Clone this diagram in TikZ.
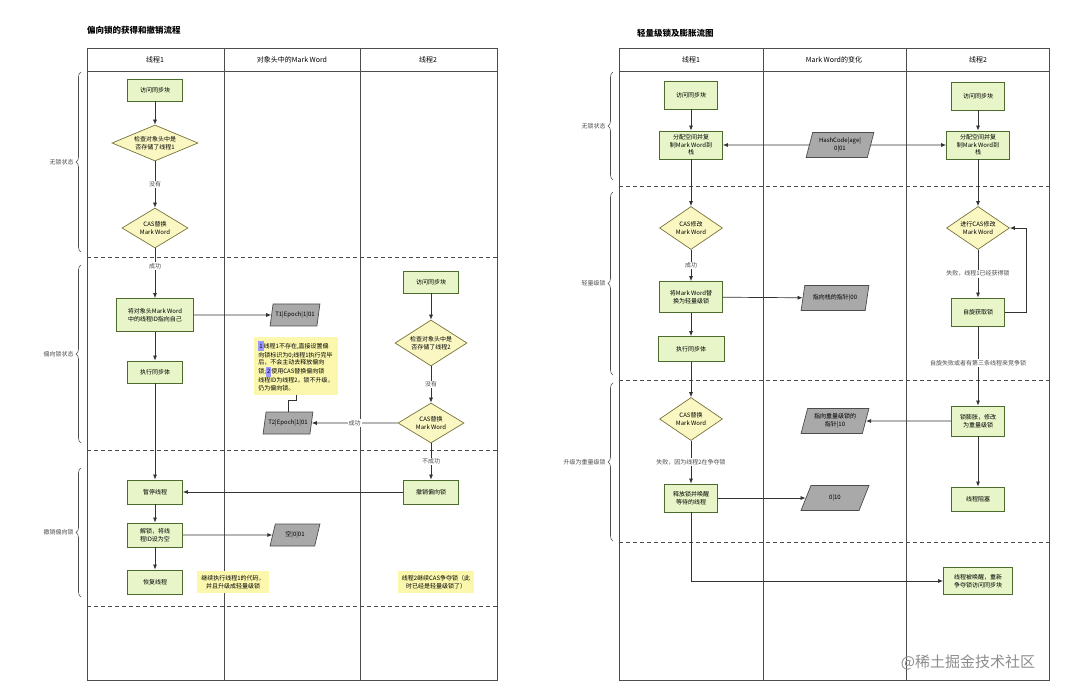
\documentclass[tikz,border=0pt]{standalone}
\usepackage{fontspec}
\setmainfont{Noto Sans CJK SC}
\usetikzlibrary{shapes.geometric,arrows.meta,decorations.pathreplacing}
\definecolor{rf}{HTML}{E8F5C8}\definecolor{rd}{HTML}{4E6B2E}
\definecolor{df}{HTML}{FAF7C2}\definecolor{dd}{HTML}{77733A}
\definecolor{pf}{HTML}{A9A9A9}\definecolor{nf}{HTML}{FBF8AE}
\begin{document}
\begin{tikzpicture}[x=1pt,y=-1pt,
 every node/.style={font=\fontsize{6}{7.5}\selectfont,align=center,inner sep=1pt},
 box/.style={draw=rd,fill=rf,line width=0.8pt,minimum width=#1,minimum height=24pt},
 box/.default=55pt,
 dia/.style={diamond,aspect=1.9,draw=dd,fill=df,line width=0.7pt,inner sep=0pt,minimum width=#1,minimum height=40pt},
 dia/.default=66pt,
 par/.style={trapezium,trapezium left angle=72,trapezium right angle=108,draw=black!70,fill=pf,line width=0.7pt,minimum width=50pt,minimum height=22pt,trapezium stretches=true},
 note/.style={fill=nf,inner sep=4pt},
 arr/.style={-{Latex[length=5pt,width=4pt]},line width=0.7pt,black!80},
 lab/.style={fill=white,text=black!70},
 frame/.style={line width=0.8pt,black!70},
 sep/.style={line width=0.9pt,black!70,dash pattern=on 4pt off 3pt},
 brace/.style={decorate,decoration={brace,amplitude=5pt},line width=0.6pt,black!70},
 side/.style={text=black!70}]
\useasboundingbox (0,0) rectangle (1080,695);
% ===== LEFT =====
\node[anchor=west,font=\fontsize{8.5}{10}\selectfont\bfseries] (t1) at (86,30) {偏向锁的获得和撤销流程};
\draw[frame] (87,48) rectangle (497,680);
\draw[frame] (87,71) -- (497,71) (224,48) -- (224,680) (360,48) -- (360,680);
\node[font=\fontsize{7}{8}\selectfont] (h1) at (155,60) {线程1};
\node[font=\fontsize{7}{8}\selectfont] (h2) at (292,60) {对象头中的Mark Word};
\node[font=\fontsize{7}{8}\selectfont] (h3) at (428,60) {线程2};
\draw[sep] (87,257) -- (497,257) (87,450) -- (497,450) (87,606) -- (497,606);
\draw[brace] (81,252) -- (81,72) node[midway,left=6pt,side] (s1) {无锁状态};
\draw[brace] (81,443) -- (81,265) node[midway,left=6pt,side] (s2) {偏向锁状态};
\draw[brace] (81,597) -- (81,468) node[midway,left=6pt,side] (s3) {撤销偏向锁};

\node[box,minimum height=22pt] (a1) at (155,90) {访问同步块};
\node[dia=86pt,minimum height=36pt] (a2) at (155,143) {检查对象头中是\\否存储了线程1};
\node[dia] (a3) at (155,228) {CAS替换\\Mark Word};
\node[box=77pt,minimum height=33pt] (a4) at (155,315) {将对象头Mark Word\\中的线程ID指向自己};
\node[box,minimum height=22pt] (a5) at (155,372) {执行同步体};
\node[box] (a6) at (155,492) {暂停线程};
\node[box] (a7) at (155,535) {解锁，将线\\程ID设为空};
\node[box] (a8) at (155,582) {恢复线程};
\node[par] (p1) at (295,315) {T1|Epoch|1|01};
\node[par] (p2) at (288,423) {T2|Epoch|1|01};
\node[par] (p3) at (295,535) {空|0|01};
\node[note,align=left] (n1) at (296,366) {\colorbox{blue!40}{\hspace{-2pt}1\hspace{-2pt}}线程1不存在,直接设置偏\\向锁标识为0;线程1执行完毕\\后，不会主动去释放偏向\\锁;\colorbox{blue!40}{\hspace{-2pt}2\hspace{-2pt}}使用CAS替换偏向锁\\线程ID为线程2，锁不升级，\\仍为偏向锁。};
\node[note] (n2) at (233,582) {继续执行线程1的代码，\\并且升级成轻量级锁};
\node[note] (n3) at (436,582) {线程2继续CAS争夺锁（此\\时已经是轻量级锁了）};
\node[box,minimum height=22pt] (b1) at (431,282) {访问同步块};
\node[dia=72pt,minimum height=46pt] (b2) at (431,343) {检查对象头中是\\否存储了线程2};
\node[dia] (b3) at (431,423) {CAS替换\\Mark Word};
\node[box] (b4) at (431,492) {撤销偏向锁};

\draw[arr] (a1) -- (a2);
\draw[arr] (a2) -- node[lab] (l1) {没有} (a3);
\draw[arr] (a3) -- node[lab,pos=0.35] (l2) {成功} (a4);
\draw[arr] (a4) -- (p1);
\draw[arr] (a4) -- (a5);
\draw[arr] (a5) -- (a6);
\draw[arr] (a6) -- (a7);
\draw[arr] (a7) -- (a8);
\draw[arr] (a7) -- (p3);
\draw[arr] (b1) -- (b2);
\draw[arr] (b2) -- node[lab] (l3) {没有} (b3);
\draw[arr] (b3) -- node[lab] (l4) {成功} (p2);
\draw[arr] (b3) -- node[lab] (l5) {不成功} (b4);
\draw[arr] (b4) -- (a6);
\draw[line width=0.6pt,black!80] (n1.south) -- ++(0,5) -| (p2.north);
% ===== RIGHT =====
\node[anchor=west,font=\fontsize{8.5}{10}\selectfont\bfseries] (t2) at (636,33) {轻量级锁及膨胀流图};
\draw[frame] (619,48) rectangle (1049,680);
\draw[frame] (619,71) -- (1049,71) (763,48) -- (763,680) (906,48) -- (906,680);
\node[font=\fontsize{7}{8}\selectfont] (g1) at (691,60) {线程1};
\node[font=\fontsize{7}{8}\selectfont] (g2) at (834,60) {Mark Word的变化};
\node[font=\fontsize{7}{8}\selectfont] (g3) at (978,60) {线程2};
\draw[sep] (619,186) -- (1049,186) (619,380) -- (1049,380) (619,542) -- (1049,542);
\draw[brace] (613,180) -- (613,72) node[midway,left=6pt,side] (s4) {无锁状态};
\draw[brace] (613,375) -- (613,192) node[midway,left=6pt,side] (s5) {轻量级锁};
\draw[brace] (613,541) -- (613,383) node[midway,left=6pt,side] (s6) {升级为重量级锁};

\node[box=53pt,minimum height=28pt] (c1) at (691,95) {访问同步块};
\node[box=63pt,minimum height=28pt] (c2) at (691,145) {分配空间并复\\制Mark Word到\\栈};
\node[dia=63pt,minimum height=43pt] (c3) at (691,228) {CAS修改\\Mark Word};
\node[box=63pt,minimum height=31pt] (c4) at (691,297) {将Mark Word替\\换为轻量级锁};
\node[box=66pt,minimum height=25pt] (c5) at (691,349) {执行同步体};
\node[dia=63pt,minimum height=43pt] (c6) at (691,419) {CAS替换\\Mark Word};
\node[box=53pt,minimum height=28pt] (c7) at (691,498) {释放锁并唤醒\\等待的线程};
\node[par,minimum width=68pt,minimum height=25pt] (q1) at (840,145) {HashCode|age|\\0|01};
\node[par,minimum width=68pt,minimum height=25pt] (q2) at (835,298) {指向栈的指针|00};
\node[par,minimum width=68pt,minimum height=25pt] (q3) at (835,421) {指向重量级锁的\\指针|10};
\node[par,minimum width=68pt,minimum height=25pt] (q4) at (835,498) {0|10};
\node[box=53pt,minimum height=28pt] (d1) at (978,96) {访问同步块};
\node[box=63pt,minimum height=28pt] (d2) at (978,145) {分配空间并复\\制Mark Word到\\栈};
\node[dia=63pt,minimum height=43pt] (d3) at (978,228) {进行CAS修改\\Mark Word};
\node[box=53pt,minimum height=28pt] (d4) at (978,312) {自旋获取锁};
\node[box=53pt,minimum height=30pt] (d5) at (978,421) {锁膨胀，修改\\为重量级锁};
\node[box=53pt,minimum height=24pt] (d6) at (978,499) {线程阻塞};
\node[box=69pt,minimum height=27pt] (d7) at (978,581) {线程被唤醒，重新\\争夺锁访问同步块};
\coordinate (k1) at (1026,312);
\coordinate (k2) at (1026,228);
\coordinate (k3) at (691,581);

\draw[arr] (c1) -- (c2);
\draw[arr] (q1) -- (c2);
\draw[arr] (q1) -- (d2);
\draw[arr] (c2) -- (c3);
\draw[arr] (c3) -- node[lab] (m1) {成功} (c4);
\draw[arr] (c4) -- (q2);
\draw[arr] (c4) -- (c5);
\draw[arr] (c5) -- (c6);
\draw[arr] (c6) -- node[lab] (m2) {失败，因为线程2在争夺锁} (c7);
\draw[arr] (c7) |- (k3) -- (d7);
\draw[arr] (c7) -- (q4);
\draw[arr] (d1) -- (d2);
\draw[arr] (d2) -- (d3);
\draw[arr] (d3) -- node[lab] (m3) {失败，线程1已经获得锁} (d4);
\draw[arr] (d4) -- (k1) -- (k2) -- (d3);
\draw[arr] (d4) -- node[lab,pos=0.46] (m4) {自旋失败或者有第三条线程来竞争锁} (d5);
\draw[arr] (d5) -- (q3);
\draw[arr] (d5) -- (d6);
\node[text=black!45,font=\fontsize{15}{17}\selectfont] (wm) at (968,662) {@稀土掘金技术社区};
\end{tikzpicture}
\end{document}
